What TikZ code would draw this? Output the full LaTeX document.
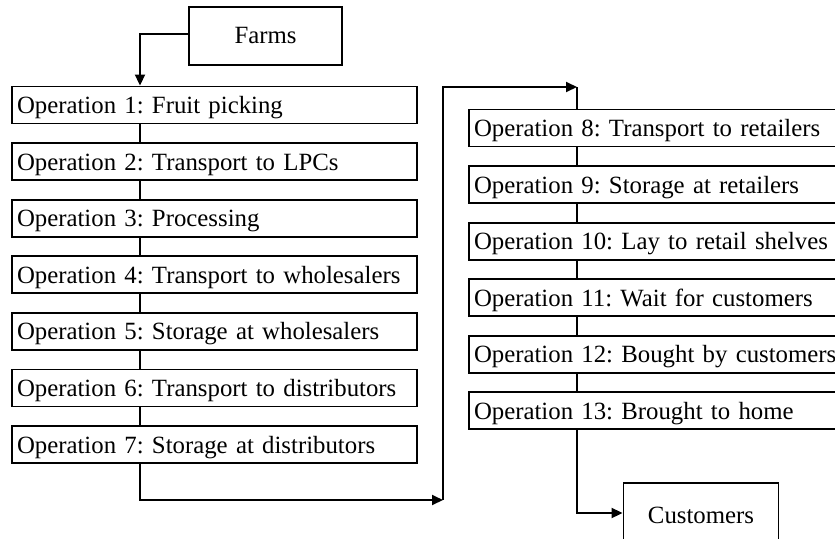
\documentclass[tikz,border=0pt]{standalone}
\usepackage{fontspec}
\setmainfont{Liberation Serif}
\usetikzlibrary{arrows.meta}
\frenchspacing
\begin{document}
\begin{tikzpicture}[x=1pt,y=-1pt,
  opbox/.style={draw, line width=1.9pt, inner ysep=0pt, inner xsep=5pt, minimum height=37pt, text height=25pt, text depth=8pt, align=left, font=\fontsize{24.8}{28}\selectfont},
  lbox/.style={opbox, text width=395pt},
  rbox/.style={opbox, text width=400pt},
  endbox/.style={draw, line width=1.9pt, inner sep=0pt, align=center, font=\fontsize{24.8}{28}\selectfont},
  conn/.style={line width=1.9pt},
  arr/.style={line width=1.9pt, -{Triangle[length=11pt,width=10pt]}}
]
\useasboundingbox (0,0) rectangle (835,538);
\fill[white] (0,0) rectangle (835,538);

\node[endbox, minimum width=153pt, minimum height=58pt] (farms) at (265.5,36) {Farms};

\node[lbox] (b1) at (214.5,105) {Operation 1: Fruit picking};
\node[lbox] (b2) at (214.5,161.6) {Operation 2: Transport to LPCs};
\node[lbox] (b3) at (214.5,218.2) {Operation 3: Processing};
\node[lbox] (b4) at (214.5,274.8) {Operation 4: Transport to wholesalers};
\node[lbox] (b5) at (214.5,331.4) {Operation 5: Storage at wholesalers};
\node[lbox] (b6) at (214.5,388) {Operation 6: Transport to distributors};
\node[lbox] (b7) at (214.5,444.6) {Operation 7: Storage at distributors};

\node[rbox] (b8) at (674,128) {Operation 8: Transport to retailers};
\node[rbox] (b9) at (674,184.6) {Operation 9: Storage at retailers};
\node[rbox] (b10) at (674,241.2) {Operation 10: Lay to retail shelves};
\node[rbox] (b11) at (674,297.8) {Operation 11: Wait for customers};
\node[rbox] (b12) at (674,354.4) {Operation 12: Bought by customers};
\node[rbox] (b13) at (674,410.6) {Operation 13: Brought to home};

\node[endbox, minimum width=155pt, minimum height=64pt] (cust) at (701,515) {Customers};

\coordinate (cl) at (140,0);
\coordinate (cr) at (577,0);
\coordinate (fa) at (140,34);
\coordinate (lo) at (140,500);
\coordinate (ca) at (443,500);
\coordinate (cb) at (443,87);
\coordinate (cc) at (577,87);
\coordinate (cd) at (577,513);

\draw[arr] (farms.west |- fa) -- (fa) -- (b1.north -| cl);
\foreach \a/\b in {b1/b2,b2/b3,b3/b4,b4/b5,b5/b6,b6/b7}{
  \draw[conn] (\a.south -| cl) -- (\b.north -| cl);
}
\foreach \a/\b in {b8/b9,b9/b10,b10/b11,b11/b12,b12/b13}{
  \draw[conn] (\a.south -| cr) -- (\b.north -| cr);
}
\draw[arr] (b7.south -| cl) -- (lo) -- (ca);
\draw[arr] (ca) -- (cb) -- (cc);
\draw[conn] (cc) -- (b8.north -| cr);
\draw[arr] (b13.south -| cr) -- (cd) -- (cd -| cust.west);
\end{tikzpicture}
\end{document}
